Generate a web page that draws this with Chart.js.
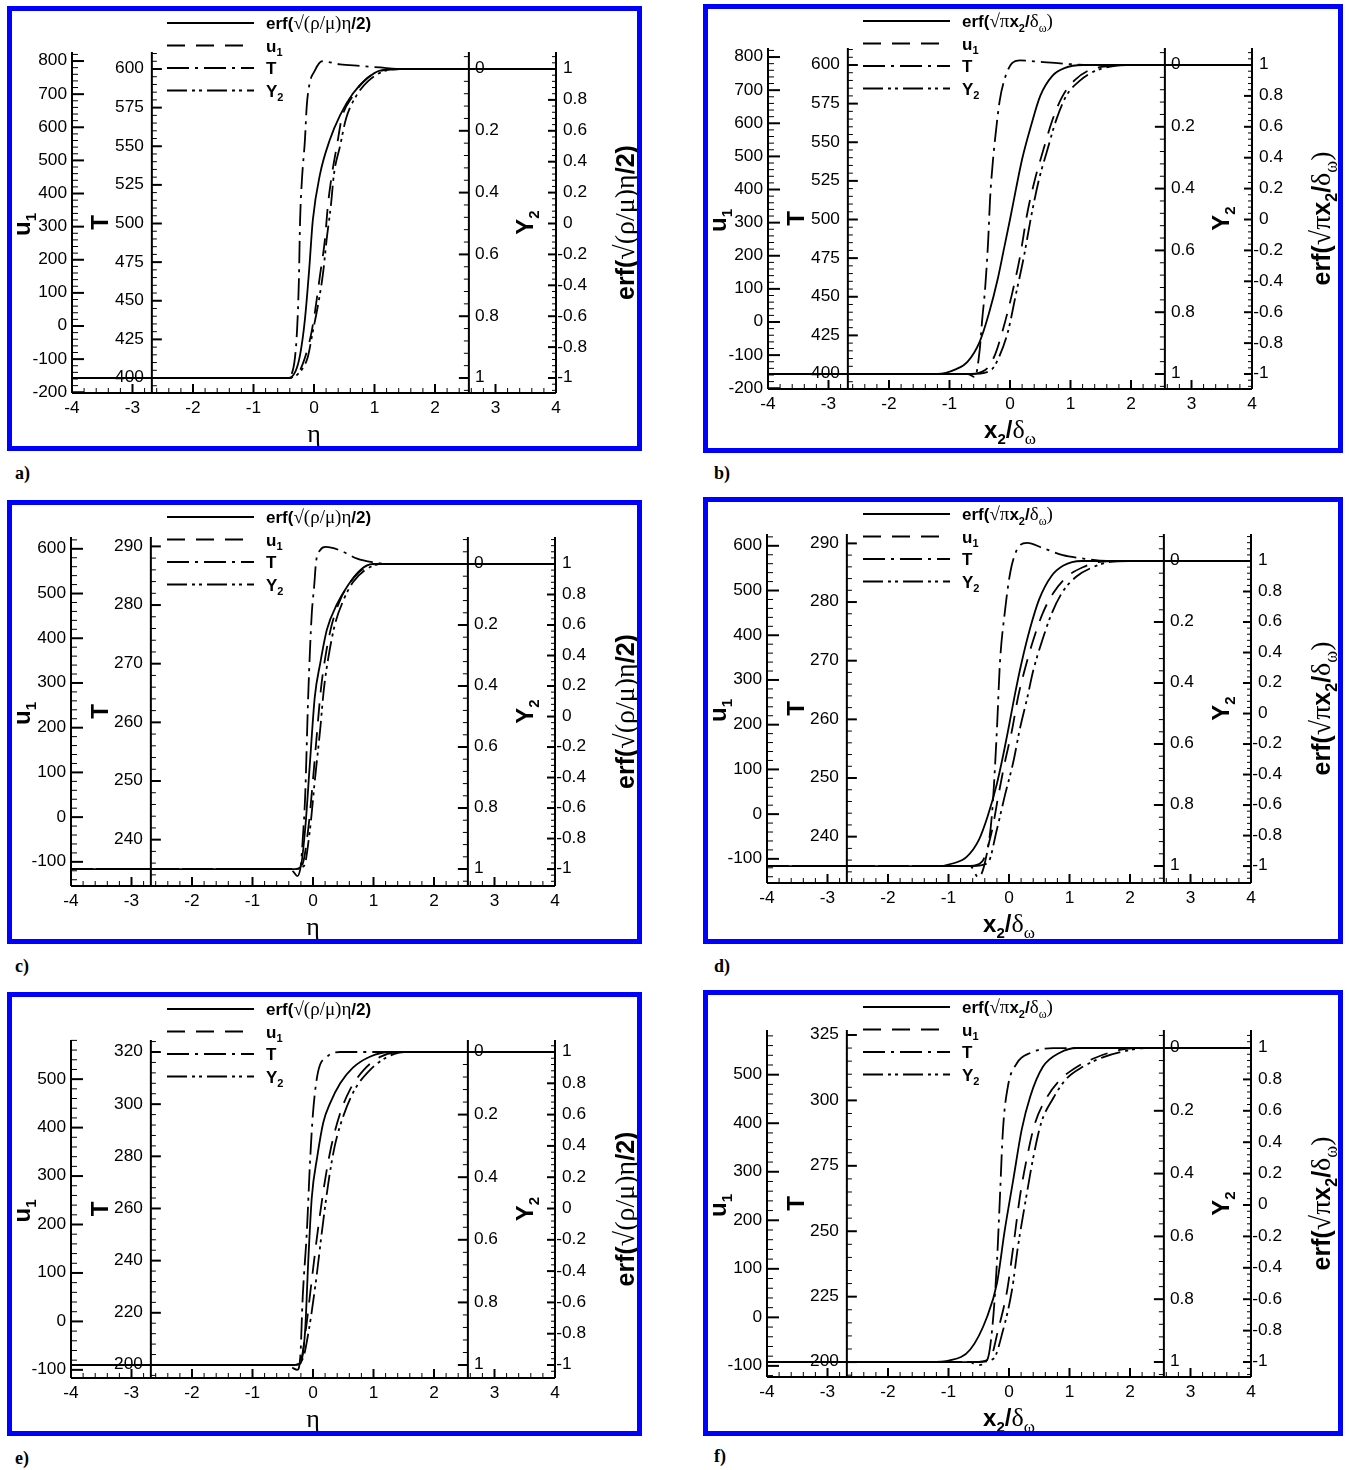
<!DOCTYPE html>
<html>
<head>
<meta charset="utf-8">
<title>Mixing layer profiles</title>
<script src="https://cdn.jsdelivr.net/npm/chart.js@4.4.1/dist/chart.umd.min.js"></script>
<style>
  html, body { margin: 0; padding: 0; background: #fff; }
  body { position: relative; width: 1349px; height: 1470px; overflow: hidden; }
  .panel { position: absolute; }
  .panel canvas { position: absolute; left: 0; top: 0; }
  .frame { position: absolute; left: 0; top: 0; right: 0; bottom: 0; border: 5px solid #0000ff; pointer-events: none; }
  .tag { position: absolute; font: bold 18px "Liberation Serif", "Times New Roman", serif; line-height: 18px; }
</style>
</head>
<body>
<script>
// tick labels
const xTicks = [-4, -3, -2, -1, 0, 1, 2, 3, 4];
const y2Ticks = [0, 0.2, 0.4, 0.6, 0.8, 1];
const erfTicks = [-1, -0.8, -0.6, -0.4, -0.2, 0, 0.2, 0.4, 0.6, 0.8, 1];
const u1TicksAB = [-200, -100, 0, 100, 200, 300, 400, 500, 600, 700, 800];
const tTicksAB = [400, 425, 450, 475, 500, 525, 550, 575, 600];
const u1TicksCD = [-100, 0, 100, 200, 300, 400, 500, 600];
const tTicksCD = [240, 250, 260, 270, 280, 290];
const u1TicksEF = [-100, 0, 100, 200, 300, 400, 500];
const tTicksE = [200, 220, 240, 260, 280, 300, 320];
const tTicksF = [200, 225, 250, 275, 300, 325];

// a) eta profiles
const xErfA = [-4, -0.45, -0.31, -0.23, -0.15, -0.08, -0.02, 0.10, 0.26, 0.43, 0.64, 0.88, 1.09, 1.42, 4];
const erfA = [-1, -1, -0.96, -0.85, -0.62, -0.30, 0.02, 0.32, 0.54, 0.70, 0.84, 0.94, 0.99, 1, 1];
const xU1A = [-4, -0.45, -0.26, -0.15, -0.05, 0.02, 0.10, 0.18, 0.23, 0.30, 0.38, 0.46, 0.63, 0.84, 1.17, 1.42, 4];
const u1A = [-157, -157, -142, -96, -27, 48, 154, 260, 365, 462, 546, 628, 691, 742, 773, 776, 776];
const xTA = [-4, -0.45, -0.35, -0.28, -0.25, -0.23, -0.20, -0.15, -0.12, -0.07, 0, 0.13, 0.43, 0.76, 1.09, 1.42, 4];
const tA = [400, 400, 405, 431, 463, 502, 528, 554, 576, 591, 598, 605, 603, 602, 601, 600, 600];
const xY2A = [-4, -0.43, -0.23, -0.10, -0.02, 0.07, 0.15, 0.21, 0.28, 0.33, 0.43, 0.53, 0.69, 0.89, 1.22, 1.42, 4];
const y2A = [1, 1, 0.98, 0.93, 0.85, 0.76, 0.66, 0.55, 0.44, 0.34, 0.25, 0.16, 0.09, 0.04, 0.003, 0, 0];

// b) x2/delta profiles
const xErfB = [-4, -1.2, -0.9, -0.7, -0.5, -0.35, -0.2, -0.1, 0, 0.1, 0.2, 0.35, 0.5, 0.7, 0.9, 1.2, 4];
const erfB = [-1, -1, -0.97, -0.92, -0.79, -0.61, -0.38, -0.19, 0, 0.2, 0.39, 0.61, 0.8, 0.93, 0.98, 1, 1];
const xU1B = [-4, -0.69, -0.41, -0.25, -0.12, 0.03, 0.17, 0.28, 0.41, 0.55, 0.69, 0.86, 1.07, 1.32, 1.65, 1.98, 4];
const u1B = [-157, -157, -145, -100, -25, 82, 202, 323, 429, 519, 604, 679, 730, 761, 773, 776, 776];
const xTB = [-4, -0.7, -0.58, -0.50, -0.46, -0.41, -0.36, -0.33, -0.28, -0.23, -0.17, -0.08, 0.03, 0.17, 0.50, 0.83, 1.32, 4];
const tB = [400, 400, 398, 416, 435, 456, 487, 513, 539, 558, 577, 592, 601, 603, 602, 601, 600, 600];
const xY2B = [-4, -0.66, -0.33, -0.17, -0.03, 0.10, 0.23, 0.35, 0.48, 0.61, 0.76, 0.93, 1.16, 1.40, 1.74, 2.07, 4];
const y2B = [1, 1, 0.99, 0.94, 0.86, 0.74, 0.62, 0.49, 0.37, 0.28, 0.18, 0.10, 0.05, 0.02, 0.003, 0, 0];

// c) eta profiles
const xErfC = [-4, -0.3, -0.21, -0.13, -0.05, 0.03, 0.12, 0.23, 0.40, 0.56, 0.78, 0.99, 4];
const erfC = [-1, -1, -0.99, -0.74, -0.30, 0.13, 0.35, 0.57, 0.74, 0.85, 0.96, 1, 1];
const xU1C = [-4, -0.35, -0.18, -0.08, 0, 0.07, 0.13, 0.21, 0.31, 0.45, 0.61, 0.81, 1.07, 4];
const u1C = [-116, -116, -107, -28, 84, 195, 285, 363, 430, 486, 524, 553, 566, 566];
const xTC = [-4, -0.41, -0.33, -0.26, -0.20, -0.17, -0.13, -0.08, -0.05, -0.02, 0.02, 0.05, 0.12, 0.21, 0.45, 0.73, 0.98, 1.27, 4];
const tC = [235, 235, 234.6, 233.8, 235.8, 240, 247.3, 264.3, 272.3, 278.6, 283.3, 287.3, 289.4, 289.9, 289.3, 287.9, 287.3, 287, 287];
const xY2C = [-4, -0.33, -0.15, -0.05, 0.03, 0.12, 0.18, 0.26, 0.36, 0.50, 0.66, 0.86, 1.14, 4];
const y2C = [1, 1, 0.99, 0.87, 0.71, 0.54, 0.41, 0.30, 0.20, 0.12, 0.06, 0.02, 0, 0];

// d) x2/delta profiles
const xErfD = [-4, -1.2, -0.9, -0.7, -0.5, -0.35, -0.2, -0.1, 0, 0.1, 0.2, 0.35, 0.5, 0.7, 0.9, 1.2, 4];
const erfD = [-1, -1, -0.98, -0.94, -0.83, -0.67, -0.46, -0.28, -0.08, 0.13, 0.32, 0.56, 0.75, 0.9, 0.97, 1, 1];
const xU1D = [-4, -0.64, -0.45, -0.28, -0.18, -0.07, 0.05, 0.15, 0.26, 0.40, 0.56, 0.73, 0.96, 1.22, 1.50, 1.83, 4];
const u1D = [-116, -116, -107, -36, 38, 115, 188, 262, 323, 389, 450, 494, 531, 552, 564, 566, 566];
const xTD = [-4, -0.64, -0.51, -0.40, -0.28, -0.20, -0.15, -0.07, 0.02, 0.13, 0.30, 0.56, 0.89, 1.17, 1.62, 4];
const tD = [235, 235, 233.1, 235.5, 244.0, 258.2, 269.6, 278.2, 285.0, 288.9, 290.1, 289.2, 288.0, 287.5, 287, 287];
const xY2D = [-4, -0.60, -0.35, -0.20, -0.07, 0.07, 0.18, 0.30, 0.40, 0.55, 0.71, 0.89, 1.12, 1.39, 1.67, 2.0, 4];
const y2D = [1, 1, 0.99, 0.88, 0.77, 0.66, 0.55, 0.45, 0.36, 0.26, 0.17, 0.10, 0.05, 0.02, 0.003, 0, 0];

// e) eta profiles
const xErfE = [-4, -0.3, -0.21, -0.13, -0.08, -0.02, 0.07, 0.17, 0.28, 0.45, 0.66, 0.94, 1.27, 4];
const erfE = [-1, -1, -0.99, -0.78, -0.35, 0.07, 0.33, 0.55, 0.67, 0.80, 0.90, 0.97, 1, 1];
const xU1E = [-4, -0.35, -0.20, -0.12, -0.02, 0.08, 0.20, 0.30, 0.45, 0.61, 0.84, 1.11, 1.44, 4];
const u1E = [-90, -90, -80, -18, 86, 188, 292, 360, 430, 478, 519, 546, 556, 556];
const xTE = [-4, -0.41, -0.33, -0.26, -0.21, -0.17, -0.10, -0.05, 0, 0.08, 0.23, 0.45, 4];
const tE = [200, 200, 198.8, 198.1, 203.1, 226.1, 251.8, 277.4, 296.6, 312.0, 318.1, 320, 320];
const xY2E = [-4, -0.33, -0.17, -0.07, 0.05, 0.15, 0.26, 0.36, 0.51, 0.69, 0.93, 1.19, 1.52, 4];
const y2E = [1, 1, 0.98, 0.89, 0.73, 0.57, 0.41, 0.30, 0.20, 0.12, 0.06, 0.02, 0, 0];

// f) x2/delta profiles
const xErfF = [-4, -1.3, -0.98, -0.64, -0.36, -0.20, -0.07, 0.07, 0.21, 0.35, 0.56, 0.84, 1.12, 4];
const erfF = [-1, -1, -0.99, -0.92, -0.71, -0.50, -0.16, 0.16, 0.48, 0.69, 0.88, 0.97, 1, 1];
const xU1F = [-4, -0.56, -0.31, -0.18, -0.03, 0.07, 0.18, 0.30, 0.43, 0.63, 0.84, 1.12, 1.45, 1.83, 2.17, 4];
const u1F = [-92, -92, -84, -26, 56, 145, 248, 331, 400, 454, 489, 516, 536, 551, 555, 555];
const xTF = [-4, -0.64, -0.53, -0.36, -0.28, -0.20, -0.15, -0.10, -0.02, 0.13, 0.35, 0.73, 4];
const tF = [200, 200, 198.8, 200.8, 212.2, 237.8, 263.0, 288.7, 305.1, 314.2, 318.1, 320, 320];
const xY2F = [-4, -0.53, -0.26, -0.10, 0.05, 0.15, 0.28, 0.40, 0.53, 0.73, 0.94, 1.22, 1.55, 1.92, 2.25, 4];
const y2F = [1, 1, 0.99, 0.90, 0.77, 0.63, 0.48, 0.35, 0.24, 0.16, 0.10, 0.06, 0.03, 0.01, 0, 0];

// text pieces: [text, style]  b = bold, g = greek/symbol, s suffix = subscript
const erfEta = [['erf(', 'b'], ['\u221a(\u03c1/\u03bc)\u03b7', 'g'], ['/2)', 'b']];
const erfX = [['erf(', 'b'], ['\u221a\u03c0', 'g'], ['x', 'b'], ['2', 'bs'], ['/', 'b'], ['\u03b4', 'g'], ['\u03c9', 'gs'], [')', 'g']];
const etaTitle = [['\u03b7', 'g']];
const xTitle = [['x', 'b'], ['2', 'bs'], ['/', 'b'], ['\u03b4', 'g'], ['\u03c9', 'gs']];

const SANS = '"Liberation Sans", Arial, sans-serif';
const SERIF = '"Liberation Serif", "Times New Roman", serif';
const DASH_U1 = [18, 11];
const DASH_T = [22, 6, 3, 6];
const DASH_Y2 = [20, 5, 3, 4, 3, 5];

const panels = [
  { tag: 'a)', tagPos: [15, 464], box: [7, 6, 635, 445], x0: 72, x1: 556, top: 52, bot: 393,
    u: [-202.3, 827.3], t: [390.3, 611.0], y2: [-0.055, 1.0485], e: [-1.097, 1.110],
    uTicks: u1TicksAB, tTicks: tTicksAB, erfLabel: erfEta, xLabel: etaTitle,
    s: [[xErfA, erfA], [xU1A, u1A], [xTA, tA], [xY2A, y2A]] },
  { tag: 'b)', tagPos: [714, 464], box: [703, 4, 640, 449], x0: 768, x1: 1252, top: 48, bot: 389,
    u: [-202.3, 827.3], t: [390.3, 611.0], y2: [-0.055, 1.0485], e: [-1.097, 1.110],
    uTicks: u1TicksAB, tTicks: tTicksAB, erfLabel: erfX, xLabel: xTitle,
    s: [[xErfB, erfB], [xU1B, u1B], [xTB, tB], [xY2B, y2B]] },
  { tag: 'c)', tagPos: [15, 957], box: [7, 500, 635, 444], x0: 71, x1: 555, top: 537, bot: 886,
    u: [-154.0, 626.4], t: [232.1, 291.6], y2: [-0.0885, 1.0557], e: [-1.111, 1.177],
    uTicks: u1TicksCD, tTicks: tTicksCD, erfLabel: erfEta, xLabel: etaTitle,
    s: [[xErfC, erfC], [xU1C, u1C], [xTC, tC], [xY2C, y2C]] },
  { tag: 'd)', tagPos: [714, 957], box: [703, 497, 640, 447], x0: 767, x1: 1251, top: 534, bot: 883,
    u: [-154.0, 626.4], t: [232.1, 291.6], y2: [-0.0885, 1.0557], e: [-1.111, 1.177],
    uTicks: u1TicksCD, tTicks: tTicksCD, erfLabel: erfX, xLabel: xTitle,
    s: [[xErfD, erfD], [xU1D, u1D], [xTD, tD], [xY2D, y2D]] },
  { tag: 'e)', tagPos: [15, 1449], box: [7, 992, 635, 444], x0: 71, x1: 555, top: 1040, bot: 1378,
    u: [-116.8, 580.8], t: [195.0, 324.6], y2: [-0.0383, 1.0415], e: [-1.083, 1.0767],
    uTicks: u1TicksEF, tTicks: tTicksE, erfLabel: erfEta, xLabel: etaTitle,
    s: [[xErfE, erfE], [xU1E, u1E], [xTE, tE], [xY2E, y2E]] },
  { tag: 'f)', tagPos: [714, 1447], box: [703, 990, 640, 446], x0: 767, x1: 1251, top: 1030, bot: 1377,
    u: [-122.9, 592.1], t: [194.3, 326.9], y2: [-0.0573, 1.0478], e: [-1.0955, 1.1146],
    uTicks: u1TicksEF, tTicks: tTicksF, erfLabel: erfX, xLabel: xTitle,
    s: [[xErfF, erfF], [xU1F, u1F], [xTF, tF], [xY2F, y2F]] }
];

function partFont(st, size) {
  const sub = st.length > 1;
  const px = sub ? Math.round(size * 0.62) : size;
  if (st[0] === 'g') return Math.round(px * 1.1) + 'px ' + SERIF;
  if (st[0] === 'b') return 'bold ' + px + 'px ' + SANS;
  return px + 'px ' + SANS;
}
function richWidth(ctx, parts, size) {
  let w = 0;
  for (const [t, st] of parts) { ctx.font = partFont(st, size); w += ctx.measureText(t).width; }
  return w;
}
// draws text pieces, y is the vertical middle of capitals
function drawRich(ctx, parts, x, y, size, center) {
  let cx = center ? x - richWidth(ctx, parts, size) / 2 : x;
  const base = y + size * 0.36;
  ctx.textAlign = 'left';
  ctx.textBaseline = 'alphabetic';
  for (const [t, st] of parts) {
    ctx.font = partFont(st, size);
    ctx.fillText(t, cx, base + (st.length > 1 ? size * 0.28 : 0));
    cx += ctx.measureText(t).width;
  }
}
function drawRotated(ctx, parts, x, y, size) {
  ctx.save();
  ctx.translate(x, y);
  ctx.rotate(-Math.PI / 2);
  drawRich(ctx, parts, 0, 0, size, true);
  ctx.restore();
}
function seg(ctx, x1, y1, x2, y2, w) {
  ctx.lineWidth = w;
  ctx.beginPath();
  ctx.moveTo(x1, y1);
  ctx.lineTo(x2, y2);
  ctx.stroke();
}
function tickValues(majors, min, max) {
  const ms = (majors[1] - majors[0]) / 5;
  const k0 = Math.ceil((min - majors[0]) / ms - 1e-6);
  const k1 = Math.floor((max - majors[0]) / ms + 1e-6);
  const out = [];
  for (let k = k0; k <= k1; k++) out.push({ v: majors[0] + k * ms, major: k % 5 === 0 });
  return out;
}
function numLabel(ctx, txt, x, y, align) {
  ctx.save();
  ctx.font = '16px ' + SANS;
  ctx.textBaseline = 'middle';
  ctx.textAlign = align;
  ctx.translate(x, y);
  ctx.scale(1.08, 1);
  ctx.fillText(txt, 0, 0);
  ctx.restore();
}

function tecAxes(p) {
  const yAxes = [
    { id: 'u', at: -4, dir: 1, major: 12, minor: 6, side: 'left', gap: 5, ticks: p.uTicks },
    { id: 't', at: -2.68, dir: 1, major: 10, minor: 5, side: 'left', gap: 8, ticks: p.tTicks },
    { id: 'y2', at: 2.56, dir: -1, major: 10, minor: 5, side: 'right', gap: 6, ticks: y2Ticks },
    { id: 'e', at: 4, dir: -1, major: 8, minor: 4, side: 'right', gap: 7, ticks: erfTicks }
  ];
  return {
    id: 'tecAxes',
    afterDatasetsDraw(chart) {
      const ctx = chart.ctx;
      const sx = chart.scales.x;
      const a = chart.chartArea;
      ctx.save();
      ctx.strokeStyle = '#000';
      ctx.fillStyle = '#000';
      ctx.setLineDash([]);

      // bottom axis
      seg(ctx, a.left, a.bottom, a.right, a.bottom, 2);
      for (const tk of tickValues(xTicks, sx.min, sx.max)) {
        const X = sx.getPixelForValue(tk.v);
        seg(ctx, X, a.bottom, X, a.bottom - (tk.major ? 9 : 5), tk.major ? 2 : 1);
      }
      for (const v of xTicks) numLabel(ctx, String(v), sx.getPixelForValue(v), a.bottom + 16, 'center');

      // the four vertical axes
      for (const ax of yAxes) {
        const sc = chart.scales[ax.id];
        const X = sx.getPixelForValue(ax.at);
        seg(ctx, X, a.top, X, a.bottom, 2);
        for (const tk of tickValues(ax.ticks, sc.min, sc.max)) {
          const Y = sc.getPixelForValue(tk.v);
          seg(ctx, X, Y, X + ax.dir * (tk.major ? ax.major : ax.minor), Y, tk.major ? 2 : 1);
        }
        for (const v of ax.ticks) {
          const Y = sc.getPixelForValue(v);
          const txt = String(v);
          if (ax.side === 'left') {
            numLabel(ctx, txt, X - ax.gap, Y, 'right');
          } else {
            ctx.font = '16px ' + SANS;
            const hang = txt[0] === '-' ? ctx.measureText('-').width * 1.08 : 0;
            numLabel(ctx, txt, X + ax.gap - hang, Y, 'left');
          }
        }
      }

      // axis titles
      const mid = (a.top + a.bottom) / 2;
      drawRotated(ctx, [['u', 'b'], ['1', 'bs']], 14, mid + 2, 24);
      drawRotated(ctx, [['T', 'b']], 92, mid, 24);
      drawRotated(ctx, [['Y', 'b'], ['2', 'bs']], 517, mid, 24);
      drawRotated(ctx, p.erfLabel, 618, mid, 25);
      drawRich(ctx, p.xLabel, sx.getPixelForValue(0), a.bottom + 40, 24, true);

      // legend
      const entries = [
        { parts: p.erfLabel, dash: [] },
        { parts: [['u', 'b'], ['1', 'bs']], dash: DASH_U1 },
        { parts: [['T', 'b']], dash: DASH_T },
        { parts: [['Y', 'b'], ['2', 'bs']], dash: DASH_Y2 }
      ];
      entries.forEach((en, i) => {
        const y = 17 + i * 22.5;
        ctx.setLineDash(en.dash);
        seg(ctx, 160, y, 247, y, 1.8);
        ctx.setLineDash([]);
        drawRich(ctx, en.parts, 259, y, 17, false);
      });
      ctx.restore();
    }
  };
}

function series(xs, ys, axis, dash) {
  return {
    data: xs.map((x, i) => ({ x: x, y: ys[i] })),
    yAxisID: axis,
    borderColor: '#000',
    borderWidth: 1.8,
    borderDash: dash,
    pointRadius: 0,
    fill: false,
    cubicInterpolationMode: 'monotone'
  };
}

panels.forEach(p => {
  const [L, T, W, H] = p.box;
  const div = document.createElement('div');
  div.className = 'panel';
  div.style.cssText = `left:${L}px;top:${T}px;width:${W}px;height:${H}px`;
  const cv = document.createElement('canvas');
  cv.width = W;
  cv.height = H;
  cv.style.width = W + 'px';
  cv.style.height = H + 'px';
  div.appendChild(cv);
  const frame = document.createElement('div');
  frame.className = 'frame';
  div.appendChild(frame);
  document.body.appendChild(div);

  const tag = document.createElement('div');
  tag.className = 'tag';
  tag.style.left = p.tagPos[0] + 'px';
  tag.style.top = p.tagPos[1] + 'px';
  tag.textContent = p.tag;
  document.body.appendChild(tag);

  new Chart(cv, {
    type: 'line',
    data: {
      datasets: [
        series(p.s[0][0], p.s[0][1], 'e', []),
        series(p.s[1][0], p.s[1][1], 'u', DASH_U1),
        series(p.s[2][0], p.s[2][1], 't', DASH_T),
        series(p.s[3][0], p.s[3][1], 'y2', DASH_Y2)
      ]
    },
    options: {
      responsive: false,
      animation: false,
      events: [],
      devicePixelRatio: 1,
      layout: { padding: { left: p.x0 - L, right: L + W - p.x1, top: p.top - T, bottom: T + H - p.bot } },
      plugins: { legend: { display: false }, tooltip: { enabled: false } },
      scales: {
        x: { type: 'linear', min: -4, max: 4, display: false },
        u: { type: 'linear', axis: 'y', position: 'left', min: p.u[0], max: p.u[1], display: false },
        t: { type: 'linear', axis: 'y', position: 'left', min: p.t[0], max: p.t[1], display: false },
        y2: { type: 'linear', axis: 'y', position: 'right', min: p.y2[0], max: p.y2[1], reverse: true, display: false },
        e: { type: 'linear', axis: 'y', position: 'right', min: p.e[0], max: p.e[1], display: false }
      }
    },
    plugins: [tecAxes(p)]
  });
});
</script>
</body>
</html>
